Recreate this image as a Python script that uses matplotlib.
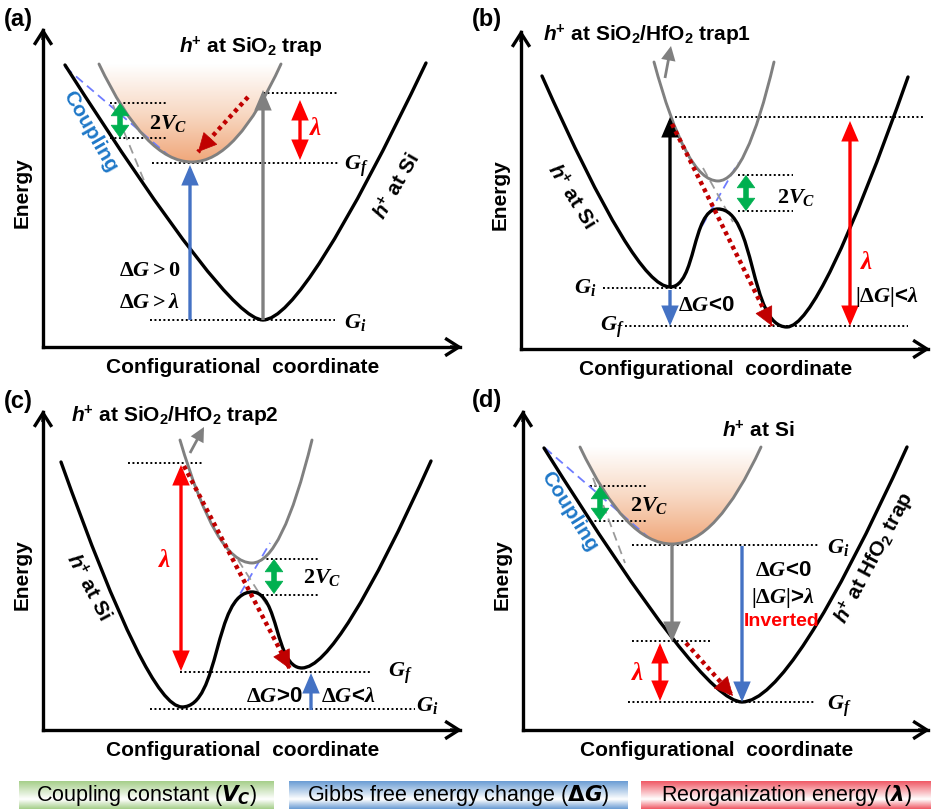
import numpy as np
import matplotlib.pyplot as plt
from matplotlib.path import Path
from matplotlib.patches import PathPatch, FancyArrowPatch
from matplotlib.colors import LinearSegmentedColormap

plt.rcParams['font.family'] = ['Liberation Sans', 'DejaVu Sans']
plt.rcParams['font.weight'] = 'bold'
plt.rcParams['mathtext.fontset'] = 'custom'
plt.rcParams['mathtext.rm'] = 'Liberation Serif:bold'
plt.rcParams['mathtext.it'] = 'Liberation Serif:italic:bold'
plt.rcParams['mathtext.bf'] = 'Liberation Sans:bold'
plt.rcParams['mathtext.sf'] = 'Liberation Sans:italic:bold'

# potential energy curves, figure pixel coords: left end, minimum(s)/barrier, right end
si_a = [(65, 65), (263, 320), (426, 63)]
trap_a = [(99, 64), (192, 162), (281, 64)]
si_b = [(542, 76), (670, 287), (718, 209), (787, 327), (908, 77)]
trap_b = [(654, 62), (718, 181), (774, 62)]
si_c = [(61, 462), (182, 707), (252, 592), (302, 668), (431, 461)]
trap_c = [(180, 440), (252, 563), (312, 440)]
hfo2_d = [(544, 448), (742, 702), (907, 447)]
si_d = [(580, 447), (672, 544), (761, 447)]

# dotted energy levels: (y, x start, x end)
levels_a = [(103, 110, 167), (138, 110, 167), (93, 263, 338), (163, 152, 338), (320, 150, 335)]
levels_b = [(117, 675, 925), (175, 738, 793), (211, 738, 793), (288, 603, 682), (326, 625, 908)]
levels_c = [(463, 128, 202), (559, 262, 320), (595, 262, 320), (672, 180, 372), (709, 150, 415)]
levels_d = [(486, 590, 647), (521, 590, 647), (545, 632, 818), (641, 632, 710), (702, 628, 815)]

# diabatic crossings (dashed): blue, gray
blue_dash = [((65, 67), (168, 155)), ((702, 226), (738, 163)), ((233, 606), (270, 543)), ((545, 448), (648, 537))]
gray_dash = [((113, 105), (145, 183)), ((703, 168), (733, 222)), ((238, 560), (268, 607)), ((593, 478), (625, 563))]

# axes frames: origin, top of y axis, end of x axis
origins = [(43, 347), (521, 349), (43, 730), (523, 730)]
y_tops = [28, 30, 410, 410]
x_ends = [462, 930, 462, 930]
panel_tags = ['(a)', '(b)', '(c)', '(d)']
tag_xy = [(4, 19), (472, 19), (4, 401), (472, 400)]

legend_labels = [r'Coupling constant ($V_C$)', r'Gibbs free energy change ($\Delta G$)',
                 r'Reorganization energy ($\lambda$)']
legend_spans = [(19, 274), (289, 628), (641, 931)]
legend_colors = ['#a6cf8a', '#6b9dd4', '#f05a66']

BLACK = 'black'
GRAY = '#808080'
BLUE = '#4472C4'
RED = '#FF0000'
DRED = '#C00000'
GREEN = '#00B050'
CBLUE = '#1F78C8'

fig = plt.figure(figsize=(9.31, 8.09), dpi=100)
ax = fig.add_axes([0, 0, 1, 1])


def well(pts, fl=0.5, fr=0.5):
    L, V, R = pts
    verts = [L, (L[0] + fl * (V[0] - L[0]), V[1]), V, (R[0] - fr * (R[0] - V[0]), V[1]), R]
    codes = [Path.MOVETO, Path.CURVE3, Path.CURVE3, Path.CURVE3, Path.CURVE3]
    return verts, codes


def double_well(pts, f=0.72, g=0.55):
    L, m1, top, m2, R = pts
    d1 = top[0] - m1[0]
    d2 = m2[0] - top[0]
    verts = [L, (L[0] + f * (m1[0] - L[0]), m1[1]), m1,
             (m1[0] + g * d1, m1[1]), (top[0] - g * d1, top[1]), top,
             (top[0] + g * d2, top[1]), (m2[0] - g * d2, m2[1]), m2,
             (R[0] - f * (R[0] - m2[0]), m2[1]), R]
    codes = [Path.MOVETO, Path.CURVE3, Path.CURVE3,
             Path.CURVE4, Path.CURVE4, Path.CURVE4,
             Path.CURVE4, Path.CURVE4, Path.CURVE4,
             Path.CURVE3, Path.CURVE3]
    return verts, codes


def draw(verts, codes, color, lw):
    ax.add_patch(PathPatch(Path(verts, codes), fc='none', ec=color, lw=lw,
                           capstyle='round', zorder=3))


def glow(pts):
    # orange gradient inside the upper parabola
    verts, codes = well(pts)
    verts = verts + [verts[0]]
    codes = codes + [Path.CLOSEPOLY]
    clip = PathPatch(Path(verts, codes), fc='none', ec='none')
    ax.add_patch(clip)
    cmap = LinearSegmentedColormap.from_list('glow', ['#ffffff', '#f8d9c4', '#f0a77a'])
    grad = np.linspace(0, 1, 256).reshape(-1, 1)
    im = ax.imshow(grad, cmap=cmap, extent=(pts[0][0], pts[2][0], pts[1][1], pts[0][1]),
                   origin='upper', aspect='auto', zorder=1, interpolation='bicubic')
    im.set_clip_path(clip)


def arrow(p0, p1, color, lw=2.4, style='-|>', hl=0.75, hw=0.32, ms=14, z=4):
    ax.add_patch(FancyArrowPatch(p0, p1, arrowstyle=f'{style},head_length={hl},head_width={hw}',
                                 mutation_scale=ms, color=color, lw=lw, shrinkA=0, shrinkB=0,
                                 joinstyle='miter', capstyle='butt', zorder=z))


def green_arrow(x, y0, y1):
    ax.plot([x, x], [y0 + 8, y1 - 8], color=GREEN, lw=4.0, solid_capstyle='butt', zorder=4)
    arrow((x, y0 + 12), (x, y0), GREEN, lw=0.5, hl=0.8, hw=0.58, ms=11)
    arrow((x, y1 - 12), (x, y1), GREEN, lw=0.5, hl=0.8, hw=0.58, ms=11)


def dotted_arrow(p0, p1):
    ax.plot([p0[0], p1[0]], [p0[1], p1[1]], color=DRED, lw=3.2, ls=(0, (0.9, 0.9)), zorder=4)
    v = np.subtract(p1, p0) / np.hypot(*np.subtract(p1, p0))
    arrow(tuple(np.subtract(p1, v * 12)), p1, DRED, lw=0.5, hl=0.9, hw=0.45)


def mtext(x, y, s, color=BLACK, size=16, ha='left', **kw):
    ax.text(x, y, s, color=color, fontsize=size, ha=ha, va='center', zorder=6, **kw)


# frames
for (ox, oy), yt, xe, tag, (tx, ty) in zip(origins, y_tops, x_ends, panel_tags, tag_xy):
    ax.plot([ox, ox], [oy, yt + 2], color=BLACK, lw=2.4, solid_capstyle='projecting', zorder=2)
    ax.plot([ox, xe - 2], [oy, oy], color=BLACK, lw=2.4, solid_capstyle='projecting', zorder=2)
    arrow((ox, yt + 12), (ox, yt), BLACK, lw=2.4, style='->', hl=0.55, hw=0.35, ms=18)
    arrow((xe - 12, oy), (xe, oy), BLACK, lw=2.4, style='->', hl=0.55, hw=0.35, ms=18)
    ax.text(tx, ty, tag, fontsize=17, fontweight='bold', ha='left', va='center')
    ax.text(ox - 21, (oy + yt) / 2 + 5, 'Energy', rotation=90, fontsize=15,
            fontweight='bold', ha='center', va='center')
    ax.text((ox + xe) / 2 - 10, oy + 20, 'Configurational  coordinate', fontsize=15,
            fontweight='bold', ha='center', va='center')

for lv in (levels_a, levels_b, levels_c, levels_d):
    for y, x0, x1 in lv:
        ax.plot([x0, x1], [y, y], color=BLACK, lw=1.4, ls=(0, (1, 1.3)), zorder=2)

for p0, p1 in blue_dash:
    ax.plot([p0[0], p1[0]], [p0[1], p1[1]], color='#6f7cff', lw=1.3, ls=(0, (5, 3)), zorder=2.5)
for p0, p1 in gray_dash:
    ax.plot([p0[0], p1[0]], [p0[1], p1[1]], color='#9a9a9a', lw=1.3, ls=(0, (5, 3)), zorder=2.5)

# curves
glow(trap_a)
glow(si_d)
draw(*well(si_a, 0.82, 0.75), BLACK, 2.4)
draw(*well(trap_a), GRAY, 2.1)
draw(*double_well(si_b, 0.73, 0.55), BLACK, 2.4)
draw(*well(trap_b), GRAY, 2.1)
draw(*double_well(si_c, 0.72, 0.55), BLACK, 2.4)
draw(*well(trap_c), GRAY, 2.1)
draw(*well(hfo2_d, 0.8, 0.7), BLACK, 2.4)
draw(*well(si_d), GRAY, 2.1)

# arrows (a)
arrow((190, 320), (190, 165), BLUE)
arrow((263, 320), (263, 90), GRAY)
arrow((300, 100), (300, 160), RED, style='<|-|>')
green_arrow(120, 103, 138)
dotted_arrow((248, 97), (198, 152))
# arrows (b)
arrow((670, 287), (670, 117), BLACK)
arrow((670, 290), (670, 326), BLUE)
arrow((850, 121), (850, 326), RED, style='<|-|>')
green_arrow(746, 175, 211)
dotted_arrow((672, 124), (772, 326))
arrow((665, 78), (671, 46), GRAY, lw=2.0, hl=0.6, hw=0.3, ms=12)
# arrows (c)
arrow((181, 465), (181, 671), RED, style='<|-|>')
green_arrow(274, 559, 594)
arrow((311, 710), (311, 673), BLUE)
dotted_arrow((184, 466), (290, 669))
arrow((190, 453), (204, 427), GRAY, lw=2.0, hl=0.6, hw=0.3, ms=12)
# arrows (d)
arrow((672, 545), (672, 642), GRAY)
arrow((660, 643), (660, 701), RED, style='<|-|>')
arrow((742, 546), (742, 702), BLUE)
green_arrow(600, 486, 521)
dotted_arrow((686, 643), (733, 696))

# titles and curve labels
sans = dict(fontsize=15, fontweight='bold', ha='center', va='center', zorder=6)
ax.text(251, 47, r'$\mathsf{h}^{\mathbf{+}}$ at SiO$_{\mathbf{2}}$ trap', **sans)
ax.text(647, 35, r'$\mathsf{h}^{\mathbf{+}}$ at SiO$_{\mathbf{2}}$/HfO$_{\mathbf{2}}$ trap1', **sans)
ax.text(175, 416, r'$\mathsf{h}^{\mathbf{+}}$ at SiO$_{\mathbf{2}}$/HfO$_{\mathbf{2}}$ trap2', **sans)
ax.text(758, 430, r'$\mathsf{h}^{\mathbf{+}}$ at Si', **sans)
ax.text(396, 186, r'$\mathsf{h}^{\mathbf{+}}$ at Si', rotation=60, **sans)
ax.text(572, 196, r'$\mathsf{h}^{\mathbf{+}}$ at Si', rotation=-58, **sans)
ax.text(89, 587, r'$\mathsf{h}^{\mathbf{+}}$ at Si', rotation=-62, **sans)
ax.text(874, 558, r'$\mathsf{h}^{\mathbf{+}}$ at HfO$_{\mathbf{2}}$ trap', rotation=62, **sans)
ax.text(90, 132, 'Coupling', rotation=-60, color=CBLUE, **sans)
ax.text(569, 511, 'Coupling', rotation=-58, color=CBLUE, **sans)

# math labels (a)
mtext(344, 166, r'$G_f$')
mtext(344, 322, r'$G_i$')
mtext(119, 270, r'$\Delta G > 0$')
mtext(119, 302, r'$\Delta G > \lambda$')
mtext(149, 123, r'$2V_C$')
mtext(309, 128, r'$\lambda$', color=RED, size=18)
# (b)
mtext(574, 288, r'$G_i$')
mtext(600, 327, r'$G_f$')
mtext(678, 305, r'$\Delta G$<0')
mtext(860, 262, r'$\lambda$', color=RED, size=18)
mtext(855, 297, r'$|\Delta G|$<$\lambda$')
mtext(777, 197, r'$2V_C$')
# (c)
mtext(158, 560, r'$\lambda$', color=RED, size=18)
mtext(303, 578, r'$2V_C$')
mtext(388, 673, r'$G_f$')
mtext(416, 706, r'$G_i$')
mtext(246, 697, r'$\Delta G$>0')
mtext(321, 697, r'$\Delta G$<$\lambda$')
# (d)
mtext(630, 505, r'$2V_C$')
mtext(827, 548, r'$G_i$')
mtext(827, 706, r'$G_f$')
mtext(631, 673, r'$\lambda$', color=RED, size=18)
mtext(755, 571, r'$\Delta G$<0')
mtext(751, 598, r'$|\Delta G|$>$\lambda$')
ax.text(782, 622, 'Inverted', color=RED, fontsize=14, fontweight='bold', ha='center', va='center', zorder=6)

# legend boxes
for lab, (x0, x1), c in zip(legend_labels, legend_spans, legend_colors):
    cmap = LinearSegmentedColormap.from_list('box', [(0, c), (0.65, '#ffffff'), (1, c)])
    grad = np.linspace(0, 1, 64).reshape(-1, 1)
    ax.imshow(grad, cmap=cmap, extent=(x0, x1, 809, 781), origin='upper', aspect='auto', zorder=1)
    ax.text((x0 + x1) / 2, 796, lab, fontsize=15.5, fontweight='normal', ha='center', va='center',
            math_fontfamily='dejavusans', zorder=6)

ax.set_xlim(0, 931)
ax.set_ylim(809, 0)
ax.axis('off')
fig.savefig('out.png', dpi=100)
